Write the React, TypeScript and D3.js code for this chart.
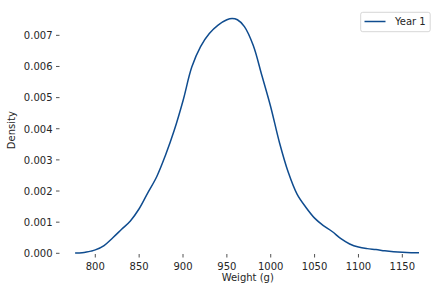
import React from "react";
import * as d3 from "d3";

const weights = [777, 785, 790, 795, 800, 810, 820, 830, 840, 850, 860, 870, 880, 890, 900, 910, 920, 930, 940, 950, 956, 962, 970, 980, 990, 1000, 1010, 1020, 1030, 1040, 1050, 1060, 1070, 1080, 1090, 1100, 1110, 1120, 1130, 1140, 1150, 1160, 1169];
const density = [0.00001, 0.00002, 0.00004, 0.00007, 0.00011, 0.00025, 0.0005, 0.00077, 0.00104, 0.00143, 0.00195, 0.00246, 0.00315, 0.00395, 0.0049, 0.00598, 0.00664, 0.00706, 0.00733, 0.0075, 0.00754, 0.0075, 0.00728, 0.00668, 0.0057, 0.0047, 0.00355, 0.0026, 0.0019, 0.00148, 0.00113, 0.00089, 0.0007, 0.00047, 0.0003, 0.0002, 0.00015, 0.00012, 0.00008, 0.00005, 0.00003, 0.00002, 0.00002];
const xTicks = [800, 850, 900, 950, 1000, 1050, 1100, 1150];
const yTicks = [0, 0.001, 0.002, 0.003, 0.004, 0.005, 0.006, 0.007];
const seriesName = "Year 1";

export default function App() {
  const W = 442, H = 292;
  const left = 59.5, right = 436, top = 7, bottom = 253.3;
  const x = d3.scaleLinear().domain([759.2, 1188.4]).range([left, right]);
  const y = d3.scaleLinear().domain([0, 0.00791]).range([bottom, top]);
  const pts = weights.map((w, i) => [w, density[i]] as [number, number]);
  const line = d3.line<[number, number]>().x(d => x(d[0])).y(d => y(d[1])).curve(d3.curveCatmullRom.alpha(0.5));
  const color = "#0f4c8f";
  const txt = "#262626";
  const font = "DejaVu Sans, sans-serif";
  return (
    <svg width={W} height={H} style={{ position: "absolute", left: 0, top: 0 }} fontFamily={font}>
      <rect width={W} height={H} fill="white" />
      <path d={line(pts) || ""} fill="none" stroke={color} strokeWidth={1.5} />
      {xTicks.map(t => (
        <g key={t}>
          <line x1={x(t)} x2={x(t)} y1={bottom + 0.7} y2={bottom + 4.2} stroke={txt} strokeWidth={0.8} />
          <text x={x(t)} y={269.5} fontSize={10} textAnchor="middle" fill={txt}>{t}</text>
        </g>
      ))}
      {yTicks.map(t => (
        <g key={t}>
          <line x1={left - 3.5} x2={left} y1={y(t)} y2={y(t)} stroke={txt} strokeWidth={0.8} />
          <text x={52.5} y={y(t) + 3.8} fontSize={10} textAnchor="end" fill={txt}>{t.toFixed(3)}</text>
        </g>
      ))}
      <text x={(left + right) / 2} y={281} fontSize={10} textAnchor="middle" fill={txt}>Weight (g)</text>
      <text transform={`translate(15,${(top + bottom) / 2}) rotate(-90)`} fontSize={10} textAnchor="middle" fill={txt}>Density</text>
      <g>
        <rect x={360.7} y={12.3} width={69.5} height={19.4} rx={2} fill="white" fillOpacity={0.8} stroke="#cccccc" strokeWidth={0.8} />
        <line x1={364.5} x2={385.5} y1={21.5} y2={21.5} stroke={color} strokeWidth={1.5} />
        <text x={395} y={25.2} fontSize={10} fill={txt}>{seriesName}</text>
      </g>
    </svg>
  );
}
